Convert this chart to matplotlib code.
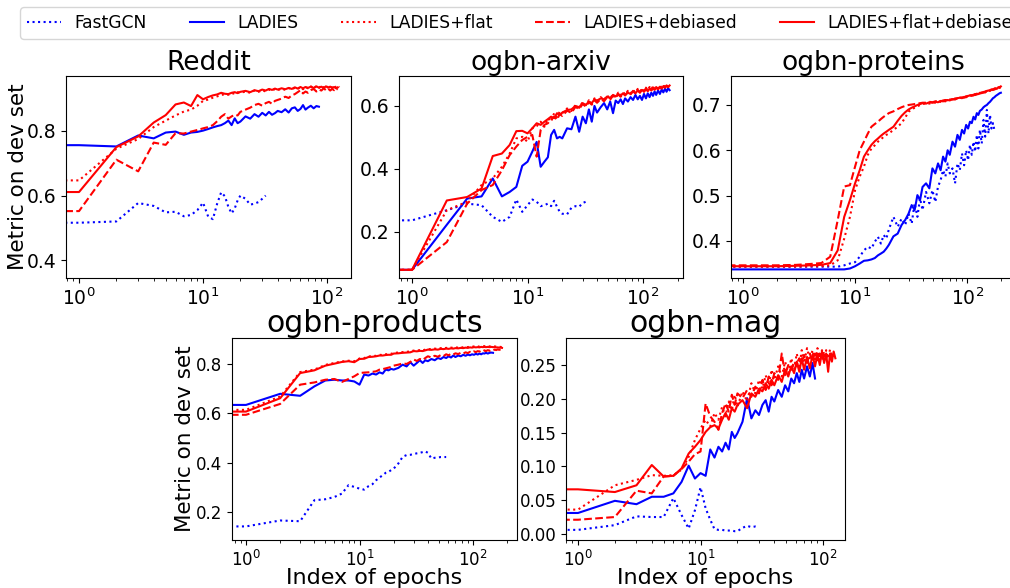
import matplotlib.pyplot as plt
import numpy as np

# epoch indices (dense at the start, sparser later)
epochs = np.r_[0:21, 22:41:2, 43:71:3, 74:131:4, 135:201:5]

# ---------------- Reddit ----------------
reddit_fastgcn = [0.516, 0.516, 0.52, 0.577, 0.568, 0.548, 0.55, 0.536, 0.54, 0.555, 0.578,
                  0.535, 0.527, 0.575, 0.61, 0.598, 0.565, 0.545, 0.56, 0.585, 0.6,
                  0.59, 0.572, 0.575, 0.58, 0.59, 0.6]
reddit_ladies = [0.756, 0.756, 0.752, 0.786, 0.777, 0.795, 0.798, 0.788, 0.795, 0.797, 0.801,
                 0.806, 0.811, 0.815, 0.818, 0.824, 0.832, 0.818, 0.839, 0.824, 0.829,
                 0.845, 0.838, 0.852, 0.844, 0.856, 0.848, 0.859, 0.85, 0.855, 0.862,
                 0.858, 0.867, 0.857, 0.87, 0.873, 0.862, 0.868, 0.88, 0.866, 0.872,
                 0.878, 0.87, 0.877, 0.875]
reddit_flat = [0.647, 0.647, 0.745, 0.775, 0.812, 0.832, 0.848, 0.86, 0.866, 0.878, 0.893,
               0.897, 0.903, 0.907, 0.911, 0.914, 0.912, 0.917, 0.915, 0.92, 0.918,
               0.922, 0.918, 0.925, 0.921, 0.926, 0.922, 0.928, 0.924, 0.93, 0.926,
               0.931, 0.927, 0.933, 0.928, 0.934, 0.93, 0.936, 0.929, 0.937, 0.932,
               0.938, 0.93, 0.939, 0.933, 0.94, 0.934, 0.941, 0.935, 0.94, 0.934,
               0.941, 0.935, 0.94, 0.936]
reddit_debiased = [0.552, 0.552, 0.711, 0.675, 0.764, 0.757, 0.793, 0.792, 0.798, 0.803, 0.808,
                   0.812, 0.818, 0.83, 0.844, 0.852, 0.838, 0.845, 0.85, 0.848, 0.859,
                   0.866, 0.872, 0.88, 0.884, 0.878, 0.886, 0.89, 0.884, 0.893, 0.896,
                   0.9, 0.906, 0.902, 0.91, 0.914, 0.92, 0.926, 0.916, 0.922, 0.918,
                   0.926, 0.93, 0.922, 0.928, 0.925, 0.932, 0.926, 0.931, 0.925, 0.93,
                   0.926, 0.932, 0.928]
reddit_flat_debiased = [0.611, 0.611, 0.75, 0.783, 0.826, 0.849, 0.882, 0.888, 0.877, 0.911, 0.898,
                        0.905, 0.91, 0.913, 0.918, 0.915, 0.914, 0.918, 0.92, 0.917, 0.921,
                        0.924, 0.92, 0.926, 0.923, 0.928, 0.925, 0.93, 0.927, 0.931, 0.928,
                        0.932, 0.929, 0.933, 0.93, 0.935, 0.931, 0.936, 0.932, 0.936, 0.933,
                        0.937, 0.933, 0.938, 0.934, 0.937, 0.933, 0.938, 0.934, 0.937, 0.933,
                        0.936, 0.932, 0.935]

# ---------------- ogbn-arxiv ----------------
arxiv_fastgcn = [0.237, 0.237, 0.269, 0.29, 0.285, 0.248, 0.232, 0.248, 0.303, 0.264, 0.285,
                 0.303, 0.296, 0.282, 0.285, 0.29, 0.282, 0.299, 0.28, 0.264, 0.258,
                 0.256, 0.277, 0.282, 0.28, 0.292, 0.296]
arxiv_ladies = [0.08, 0.08, 0.223, 0.306, 0.313, 0.37, 0.313, 0.327, 0.343, 0.41, 0.423,
                0.455, 0.486, 0.407, 0.423, 0.437, 0.508, 0.524, 0.497, 0.502, 0.497,
                0.529, 0.526, 0.566, 0.518, 0.566, 0.545, 0.589, 0.55, 0.6, 0.579,
                0.596, 0.609, 0.589, 0.614, 0.577, 0.617, 0.609, 0.621, 0.606, 0.624,
                0.614, 0.628, 0.619, 0.635, 0.621, 0.632, 0.619, 0.638, 0.624, 0.64,
                0.628, 0.642, 0.632, 0.646, 0.635,
                0.649, 0.638, 0.652, 0.643, 0.655, 0.645, 0.656, 0.65]
arxiv_flat = [0.08, 0.08, 0.269, 0.296, 0.349, 0.37, 0.407, 0.449, 0.497, 0.502, 0.486,
              0.529, 0.536, 0.55, 0.534, 0.561, 0.55, 0.577, 0.564, 0.582, 0.577,
              0.592, 0.584, 0.603, 0.594, 0.612, 0.602, 0.618, 0.607, 0.624, 0.614,
              0.628, 0.618, 0.633, 0.623, 0.638, 0.628, 0.642, 0.633, 0.645, 0.636,
              0.648, 0.639, 0.651, 0.642, 0.654, 0.645, 0.656, 0.647, 0.658, 0.65,
              0.66, 0.652, 0.662, 0.654, 0.664,
              0.656, 0.665, 0.658, 0.666, 0.66, 0.667, 0.661, 0.668]
arxiv_debiased = [0.08, 0.08, 0.168, 0.29, 0.333, 0.349, 0.396, 0.444, 0.471, 0.492, 0.502,
                  0.508, 0.439, 0.524, 0.54, 0.545, 0.558, 0.566, 0.556, 0.575, 0.568,
                  0.585, 0.578, 0.597, 0.59, 0.606, 0.598, 0.612, 0.604, 0.618, 0.61,
                  0.622, 0.615, 0.628, 0.62, 0.633, 0.625, 0.637, 0.629, 0.641, 0.633,
                  0.645, 0.637, 0.648, 0.64, 0.651, 0.643, 0.654, 0.646, 0.656, 0.648,
                  0.657, 0.65, 0.659, 0.652, 0.66,
                  0.654, 0.661, 0.656, 0.663, 0.659, 0.665, 0.66, 0.666]
arxiv_flat_debiased = [0.08, 0.08, 0.3, 0.311, 0.338, 0.441, 0.449, 0.476, 0.52, 0.521, 0.513,
                       0.529, 0.545, 0.54, 0.55, 0.558, 0.566, 0.561, 0.577, 0.571, 0.579,
                       0.587, 0.589, 0.6, 0.596, 0.609, 0.603, 0.614, 0.609, 0.621, 0.617,
                       0.624, 0.621, 0.63, 0.624, 0.635, 0.63, 0.638, 0.632, 0.64, 0.635,
                       0.642, 0.638, 0.646, 0.64, 0.649, 0.642, 0.651, 0.645, 0.653, 0.647,
                       0.655, 0.649, 0.656, 0.651, 0.657,
                       0.653, 0.659, 0.655, 0.662, 0.658, 0.664, 0.66, 0.665]

# ---------------- ogbn-proteins ----------------
proteins_fastgcn = [0.343, 0.343, 0.343, 0.343, 0.343, 0.343, 0.343, 0.343, 0.346, 0.35, 0.353,
                    0.365, 0.379, 0.387, 0.383, 0.398, 0.409, 0.394, 0.413, 0.405, 0.425,
                    0.453, 0.431, 0.449, 0.435, 0.46, 0.438, 0.483, 0.453, 0.494, 0.468,
                    0.508, 0.483, 0.512, 0.486, 0.52, 0.534, 0.556, 0.542, 0.571, 0.549,
                    0.56, 0.527, 0.571, 0.556, 0.593, 0.567, 0.6, 0.578, 0.612, 0.59,
                    0.619, 0.597, 0.634, 0.604, 0.645,
                    0.615, 0.667, 0.63, 0.689, 0.637, 0.678, 0.648, 0.66, 0.645]
proteins_ladies = [0.337, 0.337, 0.337, 0.337, 0.337, 0.337, 0.337, 0.337, 0.337, 0.339, 0.344,
                   0.35, 0.356, 0.357, 0.359, 0.362, 0.368, 0.372, 0.376, 0.383, 0.391,
                   0.41, 0.416, 0.435, 0.446, 0.46, 0.479, 0.468, 0.501, 0.49, 0.519,
                   0.527, 0.516, 0.56, 0.549, 0.571, 0.556, 0.586, 0.575, 0.6, 0.59,
                   0.619, 0.608, 0.634, 0.623, 0.645, 0.637, 0.656, 0.648, 0.663, 0.66,
                   0.674, 0.668, 0.682, 0.678, 0.687,
                   0.69, 0.695, 0.698, 0.7, 0.704, 0.707, 0.711, 0.715, 0.717, 0.72,
                   0.722, 0.724, 0.726, 0.727]
proteins_flat = [0.343, 0.343, 0.343, 0.343, 0.344, 0.344, 0.346, 0.357, 0.405, 0.453, 0.512,
                 0.542, 0.564, 0.59, 0.604, 0.611, 0.619, 0.624, 0.63, 0.634, 0.637,
                 0.645, 0.652, 0.66, 0.672, 0.685, 0.69, 0.694, 0.697, 0.7, 0.702,
                 0.704, 0.703, 0.706, 0.705, 0.708, 0.707, 0.709, 0.708, 0.711, 0.712,
                 0.711, 0.714, 0.713, 0.716, 0.717, 0.716, 0.719, 0.718, 0.721, 0.722,
                 0.721, 0.724, 0.723, 0.726, 0.725,
                 0.728, 0.729, 0.728, 0.731, 0.73, 0.733, 0.734, 0.733, 0.736, 0.737,
                 0.736, 0.739, 0.738, 0.74]
proteins_debiased = [0.346, 0.346, 0.346, 0.347, 0.349, 0.351, 0.365, 0.446, 0.52, 0.523, 0.564,
                     0.6, 0.619, 0.637, 0.652, 0.658, 0.663, 0.669, 0.674, 0.678, 0.682,
                     0.686, 0.691, 0.695, 0.698, 0.7, 0.701, 0.702, 0.703, 0.704, 0.705,
                     0.705, 0.707, 0.706, 0.708, 0.709, 0.708, 0.71, 0.711, 0.71, 0.713,
                     0.712, 0.714, 0.715, 0.714, 0.717, 0.716, 0.719, 0.72, 0.719, 0.722,
                     0.721, 0.724, 0.723, 0.726, 0.725,
                     0.728, 0.727, 0.73, 0.731, 0.73, 0.733, 0.734, 0.733, 0.736, 0.735,
                     0.738, 0.737, 0.74, 0.739]
proteins_flat_debiased = [0.344, 0.344, 0.344, 0.345, 0.346, 0.347, 0.351, 0.379, 0.453, 0.49, 0.527,
                          0.556, 0.586, 0.6, 0.612, 0.62, 0.626, 0.632, 0.637, 0.641, 0.645,
                          0.652, 0.665, 0.676, 0.684, 0.69, 0.694, 0.697, 0.7, 0.702, 0.704,
                          0.703, 0.706, 0.705, 0.707, 0.706, 0.709, 0.708, 0.71, 0.711, 0.71,
                          0.713, 0.712, 0.715, 0.716, 0.715, 0.718, 0.717, 0.72, 0.721, 0.72,
                          0.723, 0.722, 0.725, 0.724, 0.727,
                          0.726, 0.729, 0.728, 0.731, 0.732, 0.731, 0.734, 0.735, 0.734, 0.737,
                          0.736, 0.739, 0.738, 0.741]

# ---------------- ogbn-products ----------------
products_fastgcn = [0.142, 0.142, 0.166, 0.163, 0.248, 0.252, 0.261, 0.275, 0.309, 0.302, 0.295,
                    0.291, 0.305, 0.313, 0.329, 0.34, 0.349, 0.359, 0.363, 0.37, 0.376,
                    0.397, 0.424, 0.431, 0.432, 0.435, 0.438, 0.44, 0.443, 0.446, 0.44,
                    0.417, 0.42, 0.421, 0.423, 0.423, 0.423]
products_ladies = [0.634, 0.634, 0.679, 0.671, 0.709, 0.733, 0.736, 0.733, 0.733, 0.729, 0.716,
                   0.757, 0.753, 0.761, 0.757, 0.766, 0.761, 0.777, 0.774, 0.78, 0.777,
                   0.784, 0.797, 0.79, 0.807, 0.793, 0.804, 0.815, 0.804, 0.815, 0.811,
                   0.82, 0.815, 0.824, 0.82, 0.828, 0.824, 0.831, 0.826, 0.834, 0.828,
                   0.834, 0.831, 0.837, 0.833, 0.838, 0.835, 0.839, 0.837, 0.841, 0.838,
                   0.842, 0.839, 0.843, 0.842, 0.845,
                   0.842, 0.845, 0.846, 0.845]
products_flat = [0.614, 0.614, 0.668, 0.767, 0.777, 0.796, 0.804, 0.81, 0.813, 0.811, 0.822,
                 0.824, 0.83, 0.832, 0.833, 0.837, 0.836, 0.839, 0.84, 0.841, 0.845,
                 0.846, 0.848, 0.849, 0.851, 0.854, 0.854, 0.856, 0.855, 0.858, 0.86,
                 0.86, 0.862, 0.861, 0.864, 0.863, 0.865, 0.864, 0.866, 0.865, 0.867,
                 0.866, 0.868, 0.867, 0.869, 0.868, 0.87, 0.869, 0.871, 0.87, 0.871,
                 0.87, 0.872, 0.871, 0.872, 0.871,
                 0.872, 0.871, 0.872, 0.871, 0.871, 0.87, 0.87, 0.869, 0.869, 0.868]
products_debiased = [0.594, 0.594, 0.638, 0.716, 0.725, 0.736, 0.739, 0.727, 0.739, 0.75, 0.763,
                     0.765, 0.766, 0.768, 0.77, 0.777, 0.779, 0.782, 0.785, 0.788, 0.793,
                     0.797, 0.802, 0.8, 0.808, 0.818, 0.812, 0.82, 0.816, 0.824, 0.831,
                     0.826, 0.833, 0.829, 0.836, 0.832, 0.839, 0.835, 0.841, 0.838, 0.843,
                     0.84, 0.845, 0.842, 0.847, 0.844, 0.849, 0.846, 0.851, 0.848, 0.852,
                     0.85, 0.854, 0.851, 0.855, 0.852,
                     0.856, 0.853, 0.857, 0.855, 0.858, 0.856, 0.859, 0.857, 0.859, 0.858]
products_flat_debiased = [0.607, 0.607, 0.661, 0.763, 0.774, 0.793, 0.801, 0.808, 0.811, 0.807, 0.82,
                          0.821, 0.828, 0.829, 0.831, 0.834, 0.834, 0.836, 0.837, 0.837, 0.842,
                          0.843, 0.845, 0.846, 0.847, 0.852, 0.851, 0.853, 0.852, 0.855, 0.858,
                          0.857, 0.859, 0.858, 0.861, 0.86, 0.862, 0.861, 0.863, 0.862, 0.864,
                          0.863, 0.865, 0.864, 0.866, 0.865, 0.867, 0.866, 0.868, 0.867, 0.868,
                          0.867, 0.869, 0.868, 0.869, 0.868,
                          0.869, 0.868, 0.869, 0.868, 0.868, 0.867, 0.867, 0.866, 0.866, 0.865]

# ---------------- ogbn-mag ----------------
mag_fastgcn = [0.006, 0.006, 0.013, 0.026, 0.025, 0.025, 0.053, 0.028, 0.008, 0.035, 0.069,
               0.038, 0.021, 0.007, 0.006, 0.006, 0.005, 0.005, 0.005, 0.004, 0.004,
               0.009, 0.012, 0.01, 0.011, 0.01]
mag_ladies = [0.031, 0.031, 0.049, 0.044, 0.055, 0.055, 0.06, 0.077, 0.101, 0.082, 0.09,
              0.086, 0.125, 0.113, 0.129, 0.122, 0.135, 0.125, 0.151, 0.142, 0.149,
              0.166, 0.201, 0.171, 0.183, 0.176, 0.191, 0.198, 0.181, 0.203, 0.196,
              0.213, 0.203, 0.22, 0.211, 0.23, 0.223, 0.238, 0.225, 0.243, 0.23,
              0.248, 0.233, 0.253, 0.23]
mag_flat = [0.036, 0.036, 0.072, 0.08, 0.087, 0.086, 0.087, 0.095, 0.114, 0.139, 0.156,
            0.169, 0.159, 0.179, 0.169, 0.188, 0.174, 0.196, 0.183, 0.206, 0.188,
            0.211, 0.196, 0.223, 0.208, 0.228, 0.215, 0.235, 0.22, 0.243, 0.228,
            0.248, 0.233, 0.255, 0.238, 0.26, 0.243, 0.267, 0.248, 0.272, 0.253,
            0.275, 0.257, 0.272, 0.255, 0.275, 0.257, 0.272, 0.26, 0.272, 0.26,
            0.273, 0.262, 0.271]
mag_debiased = [0.021, 0.021, 0.025, 0.064, 0.06, 0.085, 0.086, 0.096, 0.107, 0.118, 0.122,
                0.193, 0.174, 0.166, 0.154, 0.179, 0.193, 0.181, 0.206, 0.191, 0.208,
                0.201, 0.213, 0.203, 0.218, 0.208, 0.228, 0.213, 0.233, 0.22, 0.238,
                0.228, 0.267, 0.235, 0.25, 0.243, 0.255, 0.248, 0.26, 0.253, 0.265,
                0.253, 0.267, 0.255, 0.27, 0.257, 0.267, 0.257, 0.27, 0.26, 0.267,
                0.262, 0.265, 0.263]
mag_flat_debiased = [0.066, 0.066, 0.062, 0.072, 0.102, 0.085, 0.086, 0.097, 0.119, 0.129, 0.139,
                     0.151, 0.158, 0.161, 0.156, 0.169, 0.179, 0.169, 0.186, 0.181, 0.191,
                     0.198, 0.186, 0.208, 0.203, 0.215, 0.211, 0.223, 0.215, 0.228, 0.22,
                     0.235, 0.225, 0.243, 0.233, 0.248, 0.238, 0.255, 0.24, 0.26, 0.243,
                     0.262, 0.245, 0.265, 0.248, 0.266, 0.25, 0.27, 0.253, 0.267, 0.24,
                     0.267, 0.255, 0.27, 0.26]

labels = ["FastGCN", "LADIES", "LADIES+flat", "LADIES+debiased", "LADIES+flat+debiased"]
styles = [("b", ":"), ("b", "-"), ("r", ":"), ("r", "--"), ("r", "-")]

panels = [
    ("Reddit", [reddit_fastgcn, reddit_ladies, reddit_flat, reddit_debiased, reddit_flat_debiased],
     (0.785, 156), (0.345, 0.97), [0.4, 0.6, 0.8], "{:.1f}"),
    ("ogbn-arxiv", [arxiv_fastgcn, arxiv_ladies, arxiv_flat, arxiv_debiased, arxiv_flat_debiased],
     (0.771, 222), (0.054, 0.695), [0.2, 0.4, 0.6], "{:.1f}"),
    ("ogbn-proteins", [proteins_fastgcn, proteins_ladies, proteins_flat, proteins_debiased,
                       proteins_flat_debiased],
     (0.781, 273), (0.318, 0.764), [0.4, 0.5, 0.6, 0.7], "{:.1f}"),
    ("ogbn-products", [products_fastgcn, products_ladies, products_flat, products_debiased,
                       products_flat_debiased],
     (0.753, 244), (0.087, 0.905), [0.2, 0.4, 0.6, 0.8], "{:.1f}"),
    ("ogbn-mag", [mag_fastgcn, mag_ladies, mag_flat, mag_debiased, mag_flat_debiased],
     (0.798, 151), (-0.009, 0.29), [0.0, 0.05, 0.1, 0.15, 0.2, 0.25], "{:.2f}"),
]

# axes boxes in pixels: left, top, right, bottom
boxes = [(66, 76, 351, 278), (399, 76, 683, 278), (731, 76, 1016, 278),
         (232, 338, 517, 540), (566, 338, 845, 540)]

W, H = 1010, 588
fig = plt.figure(figsize=(W / 100, H / 100), dpi=100)

handles = []
for i, (title, series, xlim, ylim, yticks, fmt) in enumerate(panels):
    l, t, r, b = boxes[i]
    top = i < 3
    ax = fig.add_axes([l / W, 1 - b / H, (r - l) / W, (b - t) / H])
    for ys, (c, ls), lab in zip(series, styles, labels):
        h, = ax.plot(epochs[:len(ys)], ys, color=c, linestyle=ls, linewidth=1.5, label=lab)
        if i == 0:
            handles.append(h)
    ax.set_xscale("log")
    ax.set_xlim(*xlim)
    ax.set_ylim(*ylim)
    ax.set_yticks(yticks)
    ax.set_yticklabels([fmt.format(v) for v in yticks])
    ax.set_title(title, fontsize=19 if top else 21.5, pad=3)
    ax.tick_params(labelsize=13.5 if top else 12)
    if i == 0:
        ax.set_ylabel("Metric on dev set", fontsize=15.5, labelpad=-1)
    if i == 3:
        ax.set_ylabel("Metric on dev set", fontsize=15.5, labelpad=1)
    if i >= 3:
        ax.set_xlabel("Index of epochs", fontsize=16, labelpad=-1)

fig.legend(handles, labels, loc="upper left", bbox_to_anchor=(15 / W, 1 - 2 / H),
           ncol=5, fontsize=12.3, columnspacing=2.5, handlelength=2.0, borderaxespad=0.3)

fig.savefig("out.png", dpi=100)
